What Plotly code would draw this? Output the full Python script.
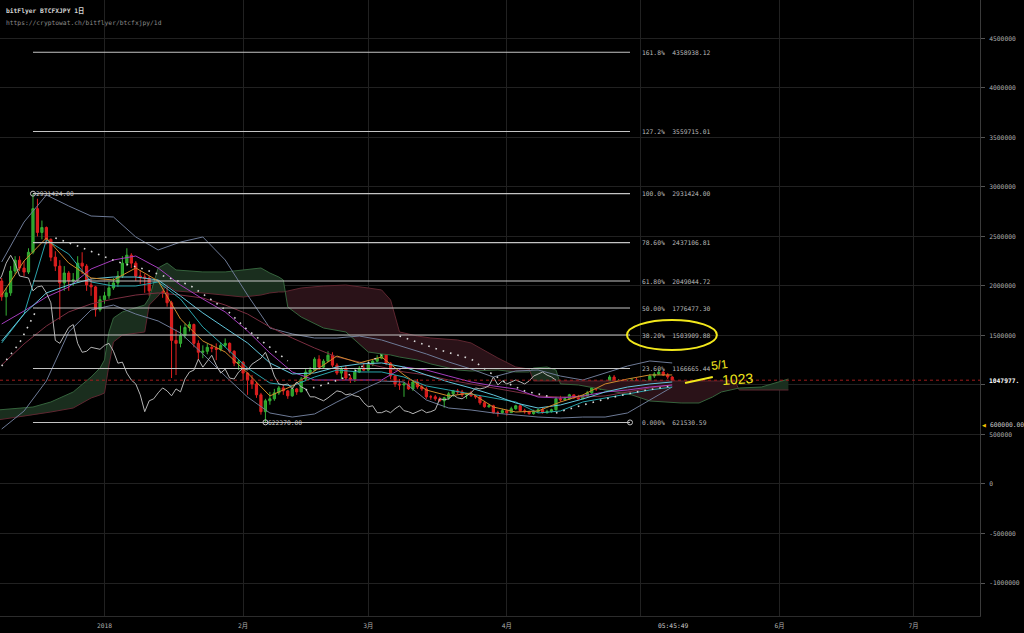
import pandas as pd
import plotly.graph_objects as go

K = 1000  # price arrays below are in thousands of JPY

# ---------------- daily candles (bitFlyer BTCFXJPY, 1D) ----------------
start_date = "2017-12-09"
first_open = 2050
closes = [
    # Dec 9 - Dec 31
    1890, 1930, 2150, 2260, 2180, 2140, 2340, 2780, 2540, 2590, 2470, 2290, 2200, 2030, 2130, 2050, 2060, 2230, 2200, 2010, 1990, 1760, 1860,
    # Jan
    1900, 1980, 2030, 2100, 2230, 2310, 2230, 2100, 2090, 2080, 1950, 1990, 2000, 1930, 1830, 1450, 1420, 1500, 1580, 1610, 1420, 1330, 1340, 1380, 1370, 1360, 1400, 1420, 1340, 1220, 1230,
    # Feb
    1120, 1050, 1010, 900, 730, 840, 860, 920, 970, 940, 890, 960, 930, 1060, 1130, 1150, 1260, 1180, 1240, 1300, 1200, 1120, 1160, 1070, 1060, 1130, 1170, 1150,
    # Mar
    1210, 1240, 1270, 1330, 1220, 1090, 1010, 1000, 1010, 960, 1030, 980, 960, 880, 880, 860, 840, 870, 910, 940, 930, 900, 910, 890, 880, 820, 780, 790, 720, 720, 740,
    # Apr
    720, 760, 790, 740, 730, 710, 730, 750, 720, 730, 750, 860, 850, 860, 900, 870, 860, 890, 920, 970, 960, 970, 990, 1080, 1000, 1040, 1010, 1030, 1050, 1030,
    # May 1 - May 8
    1010, 1040, 1090, 1110, 1130, 1100, 1080, 1047.977,
]
highs = [
    2080, 1980, 2200, 2300, 2300, 2250, 2380, 2931.424, 2880, 2660, 2600, 2480, 2350, 2260, 2200, 2150, 2130, 2300, 2340, 2220, 2080, 2000, 1900,
    1940, 2040, 2080, 2150, 2300, 2380, 2330, 2250, 2160, 2120, 2100, 2040, 2060, 2010, 1990, 1850, 1560, 1600, 1620, 1640, 1620, 1450, 1400, 1420, 1410, 1420, 1430, 1470, 1430, 1350, 1260,
    1240, 1130, 1100, 1030, 920, 860, 930, 960, 990, 1010, 950, 980, 970, 1080, 1160, 1180, 1280, 1300, 1260, 1340, 1330, 1220, 1180, 1200, 1100, 1160, 1190, 1220,
    1230, 1260, 1300, 1350, 1370, 1230, 1100, 1060, 1030, 1040, 1050, 1060, 1010, 980, 900, 900, 880, 880, 930, 950, 960, 950, 920, 940, 900, 890, 840, 810, 800, 740, 760,
    750, 780, 800, 800, 760, 740, 750, 760, 770, 750, 760, 880, 890, 880, 910, 900, 900, 900, 940, 990, 990, 1000, 1010, 1100, 1100, 1060, 1060, 1050, 1070, 1070,
    1040, 1050, 1110, 1130, 1160, 1140, 1120, 1090,
]
lows = [
    1850, 1700, 1900, 2120, 2150, 2100, 2120, 2320, 2500, 2470, 2420, 2250, 2150, 1660, 1950, 1950, 2000, 2040, 2120, 1950, 1900, 1690, 1740,
    1820, 1870, 1960, 1990, 2080, 2200, 2180, 2050, 2020, 1930, 1900, 1900, 1960, 1880, 1790, 1070, 1100, 1380, 1470, 1540, 1380, 1250, 1270, 1310, 1330, 1250, 1340, 1380, 1320, 1190, 1150,
    1050, 900, 960, 870, 700, 622.37, 800, 840, 900, 900, 860, 880, 900, 930, 1050, 1100, 1140, 1150, 1170, 1230, 1180, 1100, 1060, 1050, 1020, 1030, 1120, 1140,
    1140, 1190, 1230, 1260, 1200, 1060, 980, 950, 880, 950, 940, 960, 940, 860, 850, 840, 830, 770, 850, 880, 910, 880, 860, 880, 860, 800, 770, 770, 710, 680, 710,
    690, 720, 750, 730, 710, 700, 700, 720, 710, 710, 720, 740, 830, 840, 850, 860, 850, 860, 880, 910, 940, 950, 960, 980, 950, 990, 1000, 1000, 1020, 1020,
    990, 1000, 1030, 1070, 1100, 1090, 1060, 1040,
]
chikou_shift_days = 26

# ---------------- indicator lines, read every 5 days (Dec 9 ... May 8) ----------------
line_dates = pd.date_range("2017-12-09", "2018-05-08", freq="5D")
ma_orange = [1908, 2252, 2484, 2231, 2080, 2060, 2181, 2050, 1666, 1444, 1333, 1121, 889, 990, 1141, 1292, 1222, 1282, 1101, 949, 889, 919, 777, 727, 737, 828, 899, 1010, 1060, 1101, 1101]
ma_cyan = [1444, 1716, 1929, 2009, 2070, 2090, 2090, 2060, 1898, 1727, 1575, 1424, 1222, 1111, 1121, 1181, 1212, 1222, 1181, 1101, 1030, 969, 899, 818, 767, 798, 858, 929, 979, 1010, 1030]
ma_teal = [1424, 1716, 2464, 2322, 2040, 1999, 1999, 2040, 1868, 1585, 1383, 1171, 1020, 990, 1080, 1151, 1131, 1131, 1080, 990, 949, 909, 868, 828, 717, 737, 828, 868, 909, 949, 979]
ma_purple = [1616, 1747, 1888, 1989, 2171, 2262, 2302, 2181, 2009, 1868, 1737, 1545, 1323, 1131, 1050, 1050, 1050, 1050, 1181, 1151, 1090, 1030, 990, 959, 878, 868, 889, 929, 949, 979, 1000]
ma_maroon = [1202, 1414, 1595, 1737, 1818, 1868, 1908, 1929, 1908, 1878, 1807, 1716, 1585, 1474, 1373, 1282, 1232, 1181, 1131, 1101, 1050, 1010, 969, 929, 889, 878, 878, 889, 929, 969, 1000]
bb_upper = [2242, 2645, 2918, 2807, 2706, 2696, 2494, 2363, 2443, 2494, 2262, 1908, 1575, 1515, 1474, 1474, 1494, 1454, 1383, 1313, 1232, 1161, 1080, 1141, 1151, 1090, 1050, 1121, 1191, 1242, 1222]
bb_lower = [555, 737, 1040, 1535, 1757, 1807, 1716, 1646, 1525, 1313, 1090, 878, 717, 676, 707, 828, 939, 1040, 1030, 848, 767, 747, 717, 697, 676, 666, 676, 676, 717, 848, 979]

# ---------------- Ichimoku cloud (leading spans) ----------------
cloud_dates = [
    "2017-12-08", "2017-12-16", "2017-12-20", "2017-12-25", "2017-12-29", "2017-12-31",
    "2018-01-01", "2018-01-02", "2018-01-03", "2018-01-05", "2018-01-10", "2018-01-11",
    "2018-01-13", "2018-01-15", "2018-01-17", "2018-01-23", "2018-01-28", "2018-02-01",
    "2018-02-05", "2018-02-07", "2018-02-09", "2018-02-10", "2018-02-11", "2018-02-14",
    "2018-02-19", "2018-02-24", "2018-03-01", "2018-03-04", "2018-03-06", "2018-03-08",
    "2018-03-12", "2018-03-15", "2018-03-21", "2018-03-24", "2018-03-30", "2018-04-03",
    "2018-04-06", "2018-04-07", "2018-04-10", "2018-04-12", "2018-04-13", "2018-04-17",
    "2018-04-23", "2018-04-29", "2018-05-03", "2018-05-10", "2018-05-14", "2018-05-17",
    "2018-05-19", "2018-05-22", "2018-05-23", "2018-05-28", "2018-05-31", "2018-06-03",
]
span_a = [
    747, 777, 828, 929, 1080, 1171,
    1252, 1535, 1676, 1737, 1807, 1878,
    2181, 2231, 2161, 2141, 2141, 2161,
    2181, 2130, 2090, 2060, 1787, 1686,
    1575, 1535, 1333, 1313, 1303, 1282,
    1252, 1212, 1151, 1141, 1151, 1131,
    1131, 1171, 1181, 1151, 1010, 1000,
    949, 899, 838, 818, 818, 878,
    929, 959, 969, 979, 1020, 1060,
]
span_b = [
    646, 697, 727, 767, 868, 899,
    919, 1202, 1434, 1504, 1535, 1807,
    1898, 2009, 1949, 1929, 1908, 1888,
    1908, 1929, 1939, 1939, 1949, 1979,
    1999, 2009, 1979, 1959, 1858, 1535,
    1494, 1474, 1454, 1424, 1272, 1181,
    1161, 1040, 1040, 1040, 1040, 1040,
    1040, 1040, 1040, 1040, 1040, 1040,
    1040, 1040, 949, 949, 949, 949,
]

# ---------------- parabolic SAR dots (None = break between runs) ----------------
sar_dates = [
    "2017-12-09", "2017-12-13", "2017-12-17", None,
    "2017-12-21", "2017-12-26", "2017-12-31", "2018-01-04", "2018-01-09", "2018-01-13", "2018-01-20",
    "2018-01-25", "2018-01-29", "2018-02-02", "2018-02-07", "2018-02-11", None,
    "2018-02-15", "2018-02-21", "2018-02-24", "2018-02-27", "2018-03-04", None,
    "2018-03-08", "2018-03-13", "2018-03-17", "2018-03-24", "2018-03-28", "2018-04-01", "2018-04-05",
    "2018-04-09", "2018-04-11", None,
    "2018-04-12", "2018-04-18", "2018-04-24", "2018-04-30", "2018-05-05", "2018-05-08",
]
sar_vals = [
    1191, 1424, 1777, None,
    2484, 2403, 2312, 2242, 2181, 2120, 2009,
    1858, 1727, 1555, 1383, 1242, None,
    949, 1030, 1080, 1171, 1303, None,
    1494, 1414, 1353, 1262, 1131, 1020, 939,
    899, 878, None,
    717, 798, 868, 929, 969, 990,
]

# ---------------- Fibonacci retracement ----------------
fib_pct = ["161.8%", "127.2%", "100.0%", "78.60%", "61.80%", "50.00%", "38.20%", "23.60%", "0.000%"]
fib_val = [4358938.12, 3559715.01, 2931424.00, 2437106.81, 2049044.72, 1776477.30, 1503909.88, 1166665.44, 621530.59]
fib_start = "2017-12-16"
fib_end = "2018-04-28 13:30"
peak_date, peak_val = "2017-12-16", 2931424.00
low_date, low_val = "2018-02-06", 622370.00
last_price = 1047977
alert_price = 600000
now_time = "2018-05-08 05:45:49"

# ---------------- axes ----------------
y_ticks = [-1000000, -500000, 0, 500000, 1000000, 1500000, 2000000, 2500000, 3000000, 3500000, 4000000, 4500000]
y_tick_text = ["-1000000", "-500000", "0", "500000", "", "1500000", "2000000", "2500000", "3000000", "3500000", "4000000", "4500000"]
month_ticks = ["2018-01-01", "2018-02-01", "2018-03-01", "2018-04-01", "2018-05-01", "2018-06-01", "2018-07-01"]
month_labels = ["2018", "2月", "3月", "4月", "", "6月", "7月"]
x_range = ["2017-12-08 14:56", "2018-07-15 20:40"]
y_range = [-1333000, 4887000]

# ---------------- styles ----------------
FONT = "DejaVu Sans Mono, Noto Sans CJK JP, monospace"
FS = 6.3
GREEN_FILL = "#1a2e1e"
RED_FILL = "#2a1218"
GRID = "#212121"

fig = go.Figure()

# ---- cloud fill (green where span A above span B, red otherwise) ----
cd = list(pd.to_datetime(cloud_dates))
A = [v * K for v in span_a]
B = [v * K for v in span_b]
segments = []
cx, ca, cb = [cd[0]], [A[0]], [B[0]]
sign = A[0] >= B[0]
for i in range(1, len(cd)):
    s = A[i] >= B[i]
    if s != sign:
        d0 = A[i - 1] - B[i - 1]
        d1 = A[i] - B[i]
        f = d0 / (d0 - d1)
        tx = cd[i - 1] + (cd[i] - cd[i - 1]) * f
        ty = A[i - 1] + (A[i] - A[i - 1]) * f
        cx.append(tx); ca.append(ty); cb.append(ty)
        segments.append((sign, cx, ca, cb))
        cx, ca, cb = [tx], [ty], [ty]
        sign = s
    cx.append(cd[i]); ca.append(A[i]); cb.append(B[i])
segments.append((sign, cx, ca, cb))
for sg, xs, a_, b_ in segments:
    fig.add_trace(go.Scatter(
        x=list(xs) + list(xs[::-1]), y=list(a_) + list(b_[::-1]),
        fill="toself", fillcolor=GREEN_FILL if sg else RED_FILL,
        line=dict(width=0), mode="lines", hoverinfo="skip"))
fig.add_trace(go.Scatter(x=cd, y=B, mode="lines", line=dict(color="#5e2630", width=1), hoverinfo="skip"))
fig.add_trace(go.Scatter(x=cd, y=A, mode="lines", line=dict(color="#35633c", width=1), hoverinfo="skip"))

# ---- candles ----
dates = pd.date_range(start_date, periods=len(closes), freq="D")
opens = [first_open] + closes[:-1]
fig.add_trace(go.Candlestick(
    x=dates,
    open=[v * K for v in opens], high=[v * K for v in highs],
    low=[v * K for v in lows], close=[v * K for v in closes],
    increasing=dict(line=dict(color="#35b035", width=1), fillcolor="#2a9e2a"),
    decreasing=dict(line=dict(color="#e02020", width=1), fillcolor="#d81c1c"),
    hoverinfo="skip"))

# ---- indicator lines ----
def add_line(vals, color, width=1.0):
    fig.add_trace(go.Scatter(x=line_dates, y=[v * K for v in vals], mode="lines",
                             line=dict(color=color, width=width), hoverinfo="skip"))

add_line(bb_upper, "#6d7a96")
add_line(bb_lower, "#6d7a96")
add_line(ma_maroon, "#7a2e40")
add_line(ma_purple, "#a43cbc")
add_line(ma_teal, "#2aa4ac")
add_line(ma_cyan, "#62c6dc")
add_line(ma_orange, "#d08a2c")

# lagging span: closes plotted 26 days back
fig.add_trace(go.Scatter(x=dates - pd.Timedelta(days=chikou_shift_days), y=[v * K for v in closes],
                         mode="lines", line=dict(color="#b4b4b4", width=1), hoverinfo="skip"))

# parabolic SAR
fig.add_trace(go.Scatter(x=sar_dates, y=[None if v is None else v * K for v in sar_vals],
                         mode="lines", line=dict(color="#d8d8d8", width=1.6, dash="1.6px,6px"),
                         connectgaps=False, hoverinfo="skip"))

# current price line
fig.add_trace(go.Scatter(x=x_range, y=[last_price, last_price], mode="lines",
                         line=dict(color="#a01c1c", width=1, dash="dot"), hoverinfo="skip"))

# ---- Fibonacci lines ----
fx, fy = [], []
for v in fib_val:
    fx += [fib_start, fib_end, None]
    fy += [v, v, None]
fig.add_trace(go.Scatter(x=fx, y=fy, mode="lines", line=dict(color="#c4c4c4", width=1.1), hoverinfo="skip"))
fig.add_trace(go.Scatter(x=[peak_date, low_date, fib_end], y=[peak_val, low_val, fib_val[-1]],
                         mode="markers", marker=dict(symbol="circle-open", size=5, color="#c4c4c4", line=dict(width=1)),
                         hoverinfo="skip"))

annotations = []
for p, v in zip(fib_pct, fib_val):
    annotations.append(dict(x=fib_end, y=v, xref="x", yref="y", text=f"{p}  {v:.2f}",
                            xanchor="left", yanchor="middle", xshift=10, showarrow=False,
                            font=dict(family=FONT, size=FS, color="#bcbcbc")))
annotations.append(dict(x=peak_date, y=peak_val, xref="x", yref="y", text=f"{peak_val:.2f}",
                        xanchor="left", yanchor="middle", xshift=1, showarrow=False,
                        font=dict(family=FONT, size=FS, color="#c8c8c8")))
annotations.append(dict(x=low_date, y=low_val, xref="x", yref="y", text=f"{low_val:.2f}",
                        xanchor="left", yanchor="middle", xshift=1, showarrow=False,
                        font=dict(family=FONT, size=FS, color="#c8c8c8")))

# header texts
annotations.append(dict(x=0, y=1, xref="paper", yref="paper", text="<b>bitFlyer BTCFXJPY 1日</b>",
                        xanchor="left", yanchor="middle", xshift=4, yshift=-11, showarrow=False,
                        font=dict(family=FONT, size=FS, color="#d4d4d4")))
annotations.append(dict(x=0, y=1, xref="paper", yref="paper", text="https://cryptowat.ch/bitflyer/btcfxjpy/1d",
                        xanchor="left", yanchor="middle", xshift=4, yshift=-23, showarrow=False,
                        font=dict(family=FONT, size=FS, color="#8c8c8c")))

# right-axis price tags
annotations.append(dict(x=1, y=last_price, xref="paper", yref="y", text="<b>1047977.</b>",
                        xanchor="left", yanchor="middle", xshift=7, showarrow=False,
                        font=dict(family=FONT, size=FS, color="#ffffff")))
annotations.append(dict(x=1, y=alert_price, xref="paper", yref="y", text="600000.00",
                        xanchor="left", yanchor="middle", xshift=8, showarrow=False,
                        font=dict(family=FONT, size=FS, color="#d0d0d0")))
annotations.append(dict(x=1, y=alert_price, xref="paper", yref="y", text="◀",
                        xanchor="left", yanchor="middle", xshift=0, showarrow=False,
                        font=dict(family="DejaVu Sans", size=5, color="#f0c000")))
# crosshair time label
annotations.append(dict(x=now_time, y=0, xref="x", yref="paper", text="05:45:49",
                        xanchor="center", yanchor="top", yshift=-4, showarrow=False,
                        font=dict(family=FONT, size=FS, color="#d0d0d0")))

# hand-written yellow marks
YEL = "#f2e81c"
annotations.append(dict(x="2018-05-18 12:00", y=1201000, xref="x", yref="y", text="5/1",
                        showarrow=False, textangle=-8,
                        font=dict(family="Liberation Sans", size=12, color=YEL)))
annotations.append(dict(x="2018-05-22 17:00", y=1060000, xref="x", yref="y", text="1023",
                        showarrow=False, textangle=-4,
                        font=dict(family="Liberation Sans", size=14, color=YEL)))

shapes = [
    dict(type="circle", xref="x", yref="y", x0="2018-04-27 21:00", x1="2018-05-18 00:00",
         y0=1353000, y1=1656000, line=dict(color=YEL, width=2)),
    dict(type="line", xref="x", yref="y", x0="2018-05-10 21:00", x1="2018-05-17 02:00",
         y0=1020000, y1=1080000, line=dict(color=YEL, width=2)),
]

fig.update_layout(
    width=1024, height=633, autosize=False,
    margin=dict(l=0, r=44, t=0, b=17, pad=0),
    paper_bgcolor="#000000", plot_bgcolor="#000000",
    showlegend=False,
    annotations=annotations, shapes=shapes,
    xaxis=dict(type="date", range=x_range, rangeslider=dict(visible=False),
               tickvals=month_ticks, ticktext=month_labels,
               showgrid=True, gridcolor=GRID, gridwidth=1,
               showline=True, linecolor="#2c2c2c", linewidth=1,
               ticks="", zeroline=False, ticklabelstandoff=3,
               tickfont=dict(family=FONT, size=FS, color="#b0b0b0")),
    yaxis=dict(side="right", range=y_range, tickvals=y_ticks, ticktext=y_tick_text,
               showgrid=True, gridcolor=GRID, gridwidth=1, zeroline=False,
               showline=True, linecolor="#3a3a3a", linewidth=1,
               ticks="outside", ticklen=4, tickcolor="#555555", ticklabelstandoff=3,
               tickfont=dict(family=FONT, size=FS, color="#b0b0b0")),
)

fig.write_html("out.html", config={"displayModeBar": False},
               post_script="document.body.style.margin='0px';document.body.style.background='#000';")
